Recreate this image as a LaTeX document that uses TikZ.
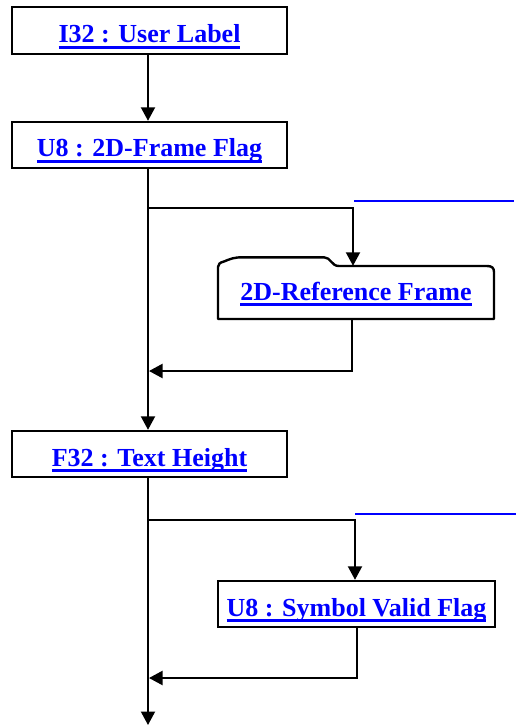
\documentclass[tikz,border=0pt]{standalone}
\usepackage{fontspec}
\setmainfont{Liberation Serif}
\usetikzlibrary{arrows.meta}
\newcommand\ulink[1]{\setbox0=\hbox{#1}\rlap{\rule[-5.6pt]{\wd0}{2.2pt}}\box0}
\begin{document}
\begin{tikzpicture}[x=1pt,y=-1pt,
  fbox/.style={draw=black, line width=2.4pt, inner xsep=0pt, inner ysep=0pt,
    font=\fontsize{26}{30}\selectfont\bfseries, text=blue,
    minimum width=275pt, text height=35pt, text depth=11pt},
  reftext/.style={draw=none, inner xsep=0pt, inner ysep=0pt,
    font=\fontsize{26}{30}\selectfont\bfseries, text=blue,
    minimum width=276pt, text height=34pt, text depth=19pt},
  outline/.style={draw=black, line width=2.4pt, line join=round},
  conn/.style={draw=black, line width=2pt},
  arr/.style={conn, -{Triangle[length=13.5pt,width=14pt]}},
  bline/.style={draw=blue, line width=2pt}]
\useasboundingbox (0,0) rectangle (516,727);
\coordinate (spine) at (148,0);
\coordinate (j1) at (148,208);
\coordinate (k1) at (149,371);
\coordinate (j2) at (148,520);
\coordinate (k2) at (149,678);
\coordinate (fin) at (148,725);
% boxes
\node[fbox, text height=36pt] (b1) at (149.5,30.5) {\ulink{I32 : User Label}};
\node[fbox] (b2) at (149.5,145) {\ulink{U8 : 2D-Frame Flag}};
\node[reftext] (ref) at (356,292.5) {\ulink{2D-Reference Frame}};
\node[fbox] (b3) at (149.5,454) {\ulink{F32 : Text Height}};
\node[fbox, minimum width=277pt] (b4) at (356.5,604) {\ulink{U8 : Symbol Valid Flag}};
% tab outline of the reference-frame box
\draw[outline] (218,319) -- (218,267)
  .. controls (218,264) and (220,262.5) .. (224,261.5)
  .. controls (230,259) and (234,257.3) .. (242,257.3)
  -- (324,257.3)
  .. controls (331,257.3) and (331,266) .. (339,266)
  -- (487,266)
  .. controls (492,266) and (494,268) .. (494,272)
  -- (494,319) -- cycle;
% connectors
\draw[arr] (b1.south -| spine) -- (b2.north -| spine);
\draw[arr] (b2.south -| spine) -- (b3.north -| spine);
\draw[arr] (j1) -| ([xshift=-3pt]ref.north);
\draw[arr] ([xshift=-4pt]ref.south) |- (k1);
\draw[arr] (b3.south -| spine) -- (fin);
\draw[arr] (j2) -| ([xshift=-1.5pt]b4.north);
\draw[arr] (b4.south) |- (k2);
% blue link lines
\draw[bline] (354,201) -- (514,201);
\draw[bline] (355,514) -- (516,514);
\end{tikzpicture}
\end{document}
